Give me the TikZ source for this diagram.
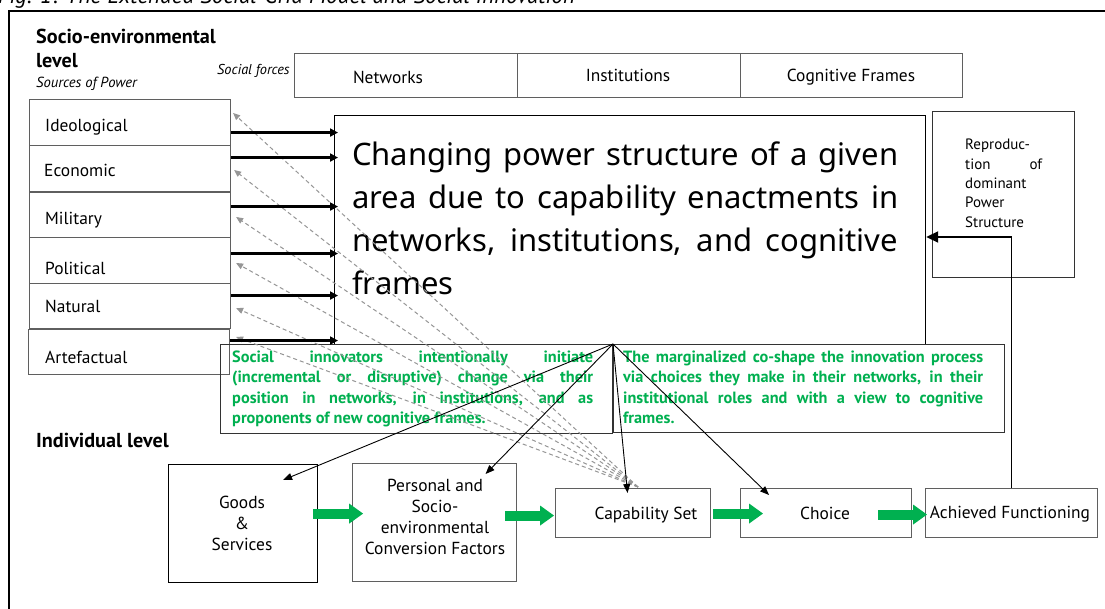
\documentclass[tikz,border=0pt]{standalone}
\usepackage{fontspec}
\setmainfont{PT Sans}
\newfontfamily\bigfont{Noto Sans}
\usetikzlibrary{arrows.meta,calc}
\definecolor{igreen}{RGB}{0,176,80}
\definecolor{dgray}{RGB}{150,150,150}
\definecolor{bgray}{RGB}{95,95,95}
\newcommand{\jline}[2]{\makebox[#1][s]{#2}}
\newcommand{\setfs}[2]{\fontsize{#1}{#2}\selectfont}
\begin{document}
\begin{tikzpicture}[x=1pt,y=-1pt,
  box/.style={draw=bgray,line width=1.1pt,rectangle,inner sep=0pt,anchor=north west},
  bbox/.style={draw=black,line width=1.2pt,rectangle,inner sep=0pt,anchor=north west},
  txt/.style={inner sep=0pt,font=\setfs{17.4}{20}},
  mtxt/.style={inner sep=0pt,anchor=north,align=center,font=\setfs{17.4}{21}},
  gtxt/.style={inner sep=0pt,anchor=north west,align=left,text=igreen,font=\bfseries\setfs{16.3}{20.5}},
  powarrow/.style={line width=2.6pt,-{Triangle[length=8pt,width=8pt]},shorten >=-4pt},
  dasharr/.style={dgray,line width=1pt,dash pattern=on 4pt off 3pt,-{Triangle[length=7pt,width=6pt]}},
  thinarr/.style={black,line width=0.9pt,-{Triangle[length=9pt,width=7pt]}},
  garrow/.style={igreen,line width=10pt,-{Triangle[length=14pt,width=19pt]}},
  fbarrow/.style={black,line width=1.8pt,-{Triangle[length=12pt,width=11pt]}}
]
\useasboundingbox (0,0) rectangle (1105,609);
\clip (0,0) rectangle (1105,609);
\fill[white] (0,0) rectangle (1105,609);

% caption and outer frame
\node[anchor=base west,inner sep=0pt,font=\itshape\setfs{23}{26}] (figcap) at (-2,4) {Fig. 1: The Extended Social-Grid Model and Social Innovation};
\draw[line width=1.8pt] (9,11) rectangle (1130,640);

% headings
\node[anchor=north west,inner sep=0pt,align=left,font=\bfseries\setfs{20.2}{24}] (socio) at (36,28.5) {Socio-environmental\\level};
\node[anchor=base west,inner sep=0pt,font=\itshape\setfs{14.6}{17}] (sources) at (36,88) {Sources of Power};
\node[anchor=base west,inner sep=0pt,font=\itshape\setfs{14.3}{17}] (sforces) at (217,75) {Social forces};
\node[anchor=base west,inner sep=0pt,font=\bfseries\setfs{20.2}{24}] (indiv) at (36,447) {Individual level};

% social forces boxes
\node[box,minimum width=223,minimum height=44] (net) at (294,53) {};
\node[box,minimum width=223,minimum height=44] (inst) at (517,53) {};
\node[box,minimum width=222,minimum height=44] (cogf) at (740,53) {};
\node[txt,anchor=base] (netT) at (388,84) {Networks};
\node[txt,anchor=base] (instT) at (628,82) {Institutions};
\node[txt,anchor=base] (cogfT) at (851,82) {Cognitive Frames};

% sources of power
\node[box,minimum width=201,minimum height=46] (ideo) at (29,99) {};
\node[box,minimum width=201,minimum height=46] (econ) at (29,145) {};
\node[box,minimum width=201,minimum height=45] (mil) at (29,192) {};
\node[box,minimum width=201,minimum height=46] (pol) at (29,237) {};
\node[box,minimum width=201,minimum height=45] (nat) at (29,283) {};
\node[box,minimum width=201,minimum height=45] (art) at (28,329) {};
\node[txt,anchor=base west] (ideoT) at (45,132) {Ideological};
\node[txt,anchor=base west] (econT) at (44,177) {Economic};
\node[txt,anchor=base west] (milT) at (45,225) {Military};
\node[txt,anchor=base west] (polT) at (45,275) {Political};
\node[txt,anchor=base west] (natT) at (45,313) {Natural};
\node[txt,anchor=base west] (artT) at (45,363) {Artefactual};

% big box
\node[bbox,minimum width=591,minimum height=229] (big) at (334,115) {};
\node[inner sep=0pt,anchor=north west,align=left,font=\bigfont\setfs{31}{43}] (bigT) at (352,141.5)
 {\jline{546pt}{Changing power structure of a given}\\
  \jline{546pt}{area due to capability enactments in}\\
  \jline{546pt}{networks, institutions, and cognitive}\\
  frames};

% reproduction box
\node[box,draw=black!80,minimum width=142,minimum height=166] (repr) at (932,111) {};
\node[inner sep=0pt,anchor=north west,align=left,font=\setfs{15}{19.3}] (reprT) at (965,139)
 {Reproduc-\\ \jline{77pt}{tion of}\\ dominant\\ Power\\ Structure};

% green text boxes
\node[box,draw=black!80,line width=1pt,minimum width=392,minimum height=89] (gL) at (220,344) {};
\node[box,draw=black!80,line width=1pt,minimum width=391,minimum height=88] (gR) at (613,344) {};
\node[gtxt] (gLT) at (232,350.5)
 {\jline{361pt}{Social innovators intentionally initiate}\\
  \jline{361pt}{(incremental or disruptive) change via their}\\
  \jline{361pt}{position in networks, in institutions, and as}\\
  proponents of new cognitive frames.};
\node[gtxt] (gRT) at (623,350.5)
 {\jline{360pt}{The marginalized co-shape the innovation process}\\
  \jline{360pt}{via choices they make in their networks, in their}\\
  \jline{360pt}{institutional roles and with a view to cognitive}\\
  frames.};

% individual level boxes
\node[bbox,minimum width=149,minimum height=118] (goods) at (168,464) {};
\node[box,minimum width=164,minimum height=118] (pers) at (352,463) {};
\node[box,minimum width=155,minimum height=49] (capset) at (555,488) {};
\node[box,minimum width=171,minimum height=49] (cho) at (740,488) {};
\node[box,minimum width=172,minimum height=49] (ach) at (925,488) {};
\node[mtxt] (goodsT) at (242,495.5) {Goods\\ \&\\ Services};
\node[mtxt] (persT) at (435,478.5) {Personal and\\ Socio-\\ environmental\\ Conversion Factors};
\node[txt,anchor=base] (capsetT) at (646,519) {Capability Set};
\node[txt,anchor=base] (choT) at (825,519) {Choice};
\node[txt,anchor=base] (achT) at (1010,518) {Achieved Functioning};

% dashed arrows back to sources of power
\coordinate (dsrc) at ($(capset.north)+(5,-1)$);
\draw[dasharr] (dsrc) -- ($(ideo.north east)+(2,14)$);
\draw[dasharr] (dsrc) -- ($(econ.north east)+(3,25)$);
\draw[dasharr] (dsrc) -- ($(mil.north east)+(5,25)$);
\draw[dasharr] (dsrc) -- ($(pol.north east)+(5,26)$);
\draw[dasharr] (dsrc) -- ($(nat.north east)+(5,25)$);
\draw[dasharr] (dsrc) -- ($(art.north east)+(6,8)$);

% power arrows
\draw[powarrow] (ideo.east) ++(0,10) coordinate (p1) -- (p1 -| big.west);
\draw[powarrow] (econ.east) ++(0,-11) coordinate (p2) -- (p2 -| big.west);
\draw[powarrow] (mil.east) ++(0,-8.5) coordinate (p3) -- (p3 -| big.west);
\draw[powarrow] (pol.east) ++(0,-7) coordinate (p4) -- (p4 -| big.west);
\draw[powarrow] (nat.east) ++(0,-10.5) coordinate (p5) -- (p5 -| big.west);
\draw[powarrow] (art.east) ++(0,-11.5) coordinate (p6) -- (p6 -| big.west);

% thin arrows from the innovation point
\coordinate (apex) at (gL.north east);
\draw[thinarr] (apex) -- ($(goods.north)+(40,16)$);
\draw[thinarr] (apex) -- ($(pers.north)+(51,11)$);
\draw[thinarr] (apex) -- ($(capset.north)+(-5.5,5)$);
\draw[thinarr] (apex) -- ($(cho.north)+(-57,7)$);

% feedback arrow
\draw[fbarrow] (ach.north) |- (big.east |- 0,237);

% green flow arrows
\draw[garrow] (goods.east) ++(-5,-10) -- ++(50,0);
\draw[garrow] (pers.east) ++(-12,-7) -- ++(49,0);
\draw[garrow] (capset.east) ++(2,0.5) -- ++(50,0);
\draw[garrow] (cho.east) ++(-34,1.5) -- ++(49,0);
\end{tikzpicture}
\end{document}
